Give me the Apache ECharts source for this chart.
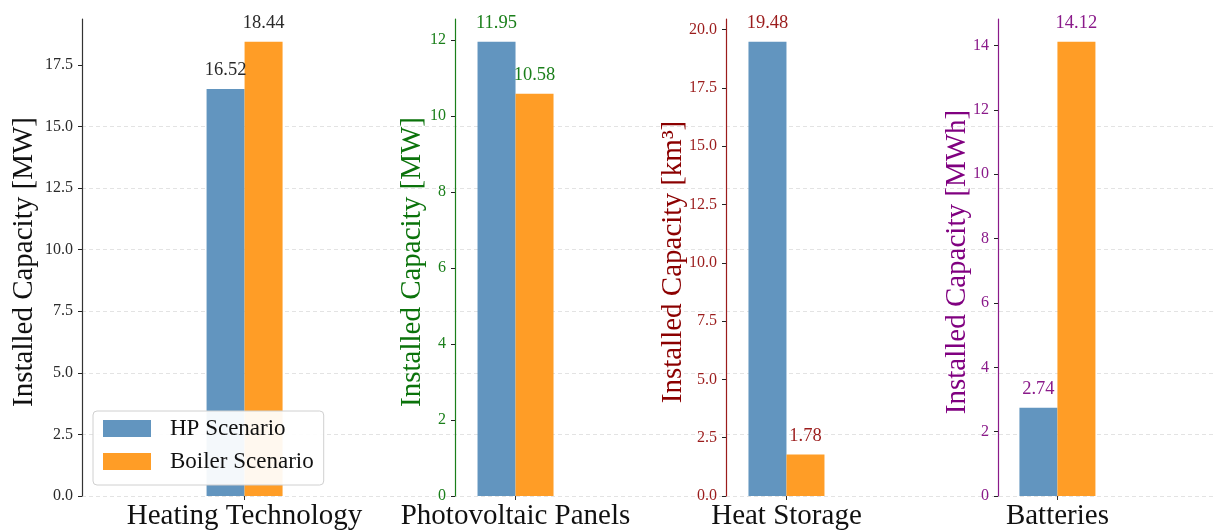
<!DOCTYPE html>
<html>
<head>
<meta charset="utf-8">
<script src="https://cdn.jsdelivr.net/npm/echarts@6/dist/echarts.min.js"></script>
<style>
  html, body { margin: 0; padding: 0; background: #fff; }
  #chart { width: 1213px; height: 532px; }
</style>
</head>
<body>
<div id="chart"></div>
<script>
// Installed capacities per technology for the two scenarios
const categories = ['Heating Technology', 'Photovoltaic Panels', 'Heat Storage', 'Batteries'];
const hpValues = [16.52, 11.95, 19.48, 2.74];
const boilerValues = [18.44, 10.58, 1.78, 14.12];
const seriesNames = ['HP Scenario', 'Boiler Scenario'];
const axisTitles = ['Installed Capacity [MW]', 'Installed Capacity [MW]', 'Installed Capacity [km³]', 'Installed Capacity [MWh]'];
const yTicks = [
  [0, 2.5, 5, 7.5, 10, 12.5, 15, 17.5],
  [0, 2, 4, 6, 8, 10, 12],
  [0, 2.5, 5, 7.5, 10, 12.5, 15, 17.5, 20],
  [0, 2, 4, 6, 8, 10, 12, 14]
];
const tickDecimals = [1, 0, 1, 0];
const categoryPositions = [0, 1, 2, 3];

// styling
const FONT = 'Liberation Serif';
const axisColors = ['#2a2a2a', '#1a7f1a', '#9b1c1c', '#8a1a8a'];
const titleColors = ['#111111', '#0b730b', '#8b0000', '#800080'];
const spineColors = ['#333333', '#1a7f1a', '#9b1c1c', '#8a1a8a'];
const barColors = ['#6295bf', '#ff9d26'];
const spineOffsets = [0, -373, -644, -916];
const nameGaps = [43, 28, 38, 26];
const yTickSteps = [2.5, 2, 2.5, 2];

const chart = echarts.init(document.getElementById('chart'), null, { renderer: 'canvas' });

const grids = [], xAxes = [], yAxes = [], series = [];
for (let i = 0; i < categories.length; i++) {
  grids.push({ left: 82, top: 19, width: 1138, height: 477, containLabel: false, outerBoundsMode: 'none' });
  xAxes.push({
    type: 'value',
    gridIndex: i,
    min: -0.6,
    max: 3.6,
    show: i === 0,
    axisLine: { show: false },
    splitLine: { show: false },
    axisTick: { show: true, customValues: categoryPositions, length: 4, lineStyle: { color: '#333' } },
    axisLabel: {
      customValues: categoryPositions,
      formatter: v => categories[Math.round(v)] || '',
      fontFamily: FONT, fontSize: 29, color: '#111', margin: 6
    }
  });
  const ymax = Math.max(hpValues[i], boilerValues[i]) * 1.05;
  yAxes.push({
    type: 'value',
    gridIndex: i,
    position: 'left',
    offset: spineOffsets[i],
    min: 0,
    max: ymax,
    interval: yTickSteps[i],
    name: axisTitles[i],
    nameLocation: 'middle',
    nameGap: nameGaps[i],
    nameMoveOverlap: false,
    nameTextStyle: { fontFamily: FONT, fontSize: 29, color: titleColors[i], padding: [0, 9, 0, 0] },
    axisLine: { show: true, onZero: false, lineStyle: { color: spineColors[i], width: 1.2 } },
    axisTick: { show: true, customValues: yTicks[i], length: 4, lineStyle: { color: '#222' } },
    axisLabel: {
      customValues: yTicks[i],
      formatter: v => v.toFixed(tickDecimals[i]),
      fontFamily: FONT, fontSize: 16, color: axisColors[i], margin: 9
    },
    splitLine: {
      show: i === 0,
      showMaxLine: false,
      lineStyle: { color: '#e3e3e3', type: [4, 3], width: 1 }
    }
  });
  const pair = [hpValues[i], boilerValues[i]];
  for (let s = 0; s < 2; s++) {
    series.push({
      type: 'bar',
      name: seriesNames[s],
      xAxisIndex: i,
      yAxisIndex: i,
      barWidth: 38,
      barGap: '0%',
      data: [[categoryPositions[i], pair[s]]],
      itemStyle: { color: barColors[s] },
      label: {
        show: true,
        position: 'top',
        distance: 9,
        formatter: p => p.value[1].toFixed(2),
        fontFamily: FONT,
        fontSize: 18.5,
        color: axisColors[i]
      }
    });
  }
}

chart.setOption({
  animation: false,
  backgroundColor: '#ffffff',
  grid: grids,
  xAxis: xAxes,
  yAxis: yAxes,
  legend: {
    data: seriesNames,
    orient: 'vertical',
    left: 93,
    top: 411,
    padding: [6, 10, 12, 10],
    itemWidth: 48,
    itemHeight: 17,
    itemGap: 10,
    icon: 'rect',
    backgroundColor: 'rgba(255,255,255,0.93)',
    borderColor: '#d0d0d0',
    borderWidth: 1,
    borderRadius: 4,
    textStyle: { fontFamily: FONT, fontSize: 23, color: '#111', padding: [0, 0, 0, 14] }
  },
  series: series
});
</script>
</body>
</html>
